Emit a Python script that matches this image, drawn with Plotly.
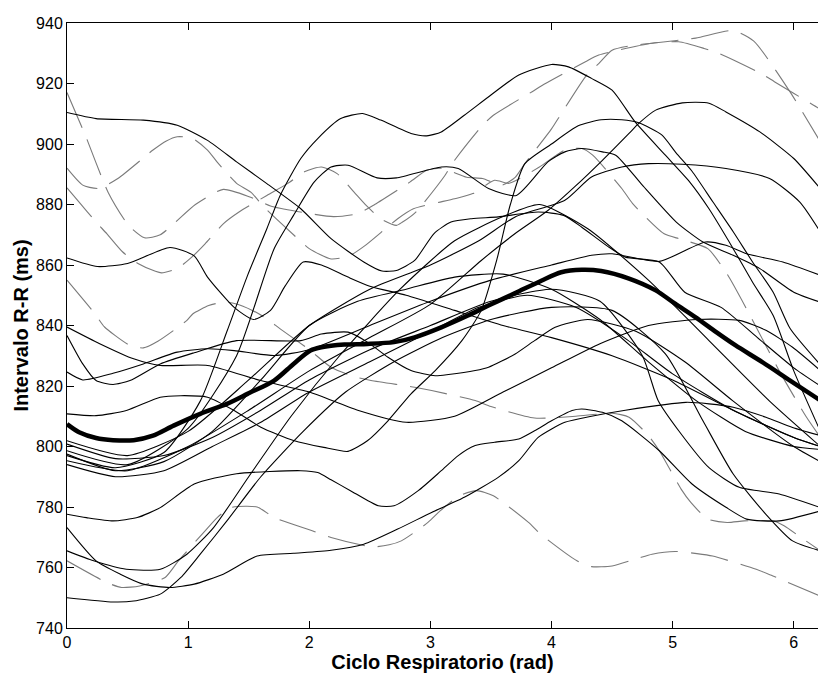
import plotly.graph_objects as go

# ---------------- data ----------------
mean_x = [0,0.1,0.24,0.38,0.55,0.71,0.88,1.1,1.32,1.49,1.71,1.87,2.01,2.1,2.29,2.48,2.70,2.87,3.09,3.31,3.48,3.70,3.92,4.08,4.25,4.41,4.64,4.86,5.02,5.19,5.36,5.52,5.74,5.97,6.22]
mean_y = [807.4,804.7,802.8,802.1,802.1,803.6,806.9,810.8,814.1,817.4,821.8,827.3,831.7,832.8,833.7,833.9,834.5,836.1,839.4,843.3,846.6,850.7,854.9,857.6,858.4,858,855.5,851.6,847.2,842.7,837.8,833.4,827.9,821.8,815.2]

# solid individual curves (x, y)
a_x = [0,0.24,0.63,0.91,1.16,1.40,1.65,1.93,2.18,2.45,2.6,2.72,2.87,3.03,3.17,3.34,3.56,3.89,4.1,4.25,4.47,4.61,4.89,5.1,5.4,5.7,6.0,6.22]
a_y = [910.4,908.4,907.9,906.2,901.2,894.1,886.9,878.6,868.7,861,858,858.2,861.5,870.4,874.2,875.3,875.9,877.5,876.4,872.5,866,862.6,861,851,846,836,826,820]
b_x = [0,0.4,0.8,1.1,1.32,1.49,1.65,1.76,1.93,2.07,2.26,2.44,2.59,2.84,2.97,3.09,3.28,3.5,3.73,4.0,4.14,4.33,4.5,4.69,4.94,5.14,5.3,5.5,5.66,5.83,6.0,6.22]
b_y = [797,793,798,815,838,856.5,872,883,895.2,901.8,908.4,910.1,907.9,903.5,902.7,904,909.5,916.2,922.8,926.3,925.5,921.7,917.8,907.3,896.3,887.5,878.6,865.4,854.3,843.3,825,805]
c_x = [0,0.5,1.0,1.4,1.71,1.87,2.04,2.18,2.32,2.56,2.72,3.09,3.23,3.48,3.71,3.97,4.11,4.25,4.42,4.53,4.75,5.03,5.25,5.5,5.72,6.0,6.22]
c_y = [798.6,794,806,830,865.4,876.4,887.4,892.4,893,888.8,888.8,892.4,891.9,885.3,883,894.1,897.4,898.5,897.4,896.3,886.4,874.2,867.6,863.2,858.8,851,847.7]
s4_x = [0,0.24,0.49,0.77,0.94,1.16,1.38,1.6,1.87,2.12,2.32,2.48,2.65,2.84,3.04,3.26,3.42,3.55,3.66,3.78,4.0,4.22,4.41,4.58,4.72,4.91,5.03,5.16,5.33,5.5,5.66,5.83,5.97,6.22]
s4_y = [810.8,810.2,811.9,816.3,816.8,816.3,811.9,806.4,802,799.7,798.4,801.9,808.5,817.4,825.1,835,845,862,880,893.5,900,906,908,908,907,903,897,891,881,871,861,851,839,827]
d_x = [0,0.5,1.0,1.5,2.0,2.5,3.0,3.42,3.7,3.97,4.19,4.42,4.64,4.72,4.86,5.08,5.3,5.44,5.72,6.0,6.22]
d_y = [795.3,792,800,812,825,836,847,861.5,870.4,878,885.8,894.6,903.5,906.8,911.2,913.6,913.5,910.6,904,895.2,885.2]
s6_x = [0,0.5,1.0,1.5,2.0,2.5,3.0,3.4,3.7,4.11,4.33,4.58,4.8,5.08,5.44,5.8,6.05,6.22]
s6_y = [801.9,797,805,822,840,852,860,868,875.9,881.4,889.1,892.4,893.5,893.3,891.9,888.6,880.8,870.9]
l825_x = [0,0.13,0.38,0.63,0.91,1.16,1.38,1.71,2.0,2.5,3.0,3.5,4.0,4.33,4.5,4.89,5.27,5.44,5.61,5.91,6.22]
l825_y = [824.6,822,824.2,827.3,831.2,832.3,831.7,830.1,832,840,848,855,860,863.2,863.7,861.2,867.6,866.5,863.7,861,856.6]
s2_x = [0,0.25,0.5,0.85,1.05,1.16,1.38,1.54,1.68,1.8,1.95,2.1,2.32,2.5,2.8,3.2,3.6,4.0,4.5,5.0,5.5,6.0,6.22]
s2_y = [862.3,859.5,860.5,865.8,863,856,846,842,845,853,861,860,856,853,850,845,840,836,830,822,812,803,800]
l840_x = [0,0.27,0.55,0.77,1.16,1.6,2.0,2.4,2.8,3.2,3.6,4.0,4.4,4.8,5.2,5.55,5.77,5.99,6.22]
l840_y = [839.5,834,829,826.8,826.8,821.8,818,812,808,810,818,826,834,840,842,841.7,838.4,832.8,825.1]
l837_x = [0,0.13,0.24,0.38,0.52,0.77,1.05,1.4,1.93,2.1,2.32,2.48,2.65,2.84,3.04,3.15,3.37,3.48,3.7,3.86,4.03,4.3,4.7,5.1,5.5,6.0,6.22]
l837_y = [836.7,827.3,821.8,820.5,821.8,827.3,831,835,835,837.2,837.8,834.5,829.5,825.1,823.4,823.8,825.1,826.2,830.6,835,839.4,842,838,828,815,800,795]
s9_x = [0,0.16,0.38,0.58,0.77,1.05,1.4,1.93,2.07,2.18,2.34,2.57,2.7,2.9,3.09,3.23,3.37,3.53,3.73,3.86,4.0,4.17,4.25,4.42,4.58,4.89,5.16,5.44,5.61,5.88,6.22]
s9_y = [777.6,776.5,775.4,776.5,779.8,787.6,791,792,791.4,789,785.4,780.4,780.4,785.4,792,797,800.3,801.4,802.5,805.2,808.5,811.9,812.4,811.3,808.5,798.6,787.6,779.9,776,775.4,778.7]
s10_x = [0,0.24,0.44,0.63,0.85,1.05,1.29,1.57,1.87,2.18,2.45,2.73,3.01,3.28,3.56,3.73,3.89,4.11,4.33,4.61,5.11,5.3,5.5,5.77,5.99,6.22]
s10_y = [773.2,762.2,757.8,754.5,753.4,754.5,757.8,763.8,764.7,765.7,767.7,772.7,778.2,783.2,789.8,795.3,803,808,810,812,814.6,814.1,813,809.7,806.3,803.6]
l1_x = [0,0.38,0.55,0.77,0.94,1.1,1.32,1.6,1.95,2.3,2.7,3.1,3.5,4.0,4.5,4.94,5.25,5.5,5.77,5.99,6.22]
l1_y = [750,748.6,748.9,751.2,756.7,764.4,775.4,790,805,818,828,836,842,846,845,830.6,808.5,790.9,777.6,768.8,765.5]
l765_x = [0,0.22,0.49,0.77,0.99,1.21,1.5,1.85,2.25,2.75,3.2,3.6,3.9,4.3,4.8,5.3,5.8,6.22]
l765_y = [765.5,762.2,759.4,759.4,764.4,773.2,790,810,830,852,868,876,880,872,855,835,815,800]
l801_x = [0,0.4,0.8,1.2,1.6,2.0,2.5,3.0,3.5,4.0,4.4,4.75,4.88,5.05,5.3,5.55,5.88,6.22]
l801_y = [800.8,796,797,803,812,822,832,840,848,852,848,830,815.2,805.2,793,786.5,784.3,779.8]
l797_x = [0,0.4,0.8,1.2,1.6,2.0,2.4,2.8,3.2,3.6,4.0,4.4,4.8,5.2,5.6,6.0,6.22]
l797_y = [797.5,792,795,805,822,840,848,852,856,857,852,842,828,815,805,800,799]
l794_x = [0,0.4,0.8,1.2,1.6,2.0,2.5,3.0,3.4,3.8,4.2,4.6,5.0,5.5,6.0,6.22]
l794_y = [794,790,792,800,808,818,828,838,846,850,846,836,824,812,803,800]

# dashed grey curves
da_x = [0,0.15,0.34,0.51,0.64,0.77,1.06,1.29,1.51,1.68,1.9,2.2,2.4,2.54,2.83,2.97,3.09,3.3,3.43,3.59,3.7,3.78,4.0,4.08,4.29,4.39,4.5,4.69,4.83,5.19,5.5,5.67,5.96,6.22]
da_y = [917,903,884,873,869,870,880,885,882.5,879.5,877.7,876,877,880,887.4,891.3,892,889,888.6,886.4,889,893.5,905,910,922.8,926.6,931,932.7,933.3,935,937.5,934,917.8,900.7]
db_x = [0,0.13,0.26,0.42,0.71,0.82,0.91,1.03,1.16,1.24,1.4,1.52,1.63,1.87,2.0,2.18,2.33,2.46,2.73,2.86,3.2,3.35,3.53,3.65,3.9,4.11,4.25,4.34,4.58,4.67,4.93,5.07,5.29,5.45,5.63,5.88,6.1,6.22]
db_y = [892,886.4,885.3,888.6,898,901,902.4,902,898,894,887,884,879,870,865.4,862,863,866.4,875.3,878.6,881.9,883.6,888,887,892.4,898,898.5,896.3,885.3,880.3,870.3,868.5,865.4,857,844,825,810,803]
dc_x = [0,0.1,0.24,0.33,0.46,0.59,0.73,0.78,0.91,1.03,1.14,1.29,1.42,1.65,1.82,1.97,2.1,2.23,2.37,2.47,2.59,2.72,2.77,2.88,3.12,3.19,3.42,3.52,3.84,3.95,4.28,4.39,4.83,5.05,5.26,5.38,5.73,5.84,6.16,6.22]
dc_y = [885.5,880.8,874.2,870.3,864.3,860.4,857.9,857.4,858.8,862.6,867,873.6,877.5,883,886.9,891,892.4,890.2,884.1,879.7,875.3,873.1,874.2,877.5,889.6,894.1,905.7,909.5,917.3,920,927.2,929.4,933.3,933.8,931.6,930,923.3,920.6,912.9,911.5]
dd_x = [0,0.23,0.31,0.52,0.63,0.75,0.99,1.04,1.17,1.29,1.39,1.53,1.65,1.76,2.0,2.18,2.37,2.51,2.87,3.01,3.37,3.5,3.86,4.2,4.5,4.64,4.8,4.89,5.07,5.15,5.29,5.45,5.59,5.83,5.92,6.06,6.22]
dd_y = [855,843.9,839.5,833.4,832.6,834.8,841.7,843.9,846.6,847.7,847.2,845,842.2,838.9,832,826.2,823.1,821.8,819.6,818.5,815.2,813.2,809.4,810,811,809.7,803.6,798.6,785.9,781.5,776,774.9,775.4,775.4,773.8,769.9,765.5]
de_x = [0,0.33,0.45,0.6,0.81,0.92,1.14,1.24,1.35,1.57,1.71,2.03,2.18,2.52,2.66,2.76,2.98,3.08,3.24,3.38,3.52,3.81,3.91,4.21,4.33,4.5,4.71,4.83,5.02,5.2,5.33,5.69,5.81,6.22]
de_y = [762.2,755,753.4,753.9,756.7,762.2,772.1,776.5,779.8,780,776.5,772.1,769.9,766.8,767.5,768.8,774.9,778.7,783.7,785.4,783.7,774.9,771,762.2,760.3,760.5,763,764.4,765.3,764.6,763.8,759.4,757.5,750.5]

x_ticks = [0, 1, 2, 3, 4, 5, 6]
y_ticks = [740, 760, 780, 800, 820, 840, 860, 880, 900, 920, 940]

solid_curves = [(a_x, a_y), (b_x, b_y), (c_x, c_y), (s4_x, s4_y), (d_x, d_y), (s6_x, s6_y),
                (l825_x, l825_y), (s2_x, s2_y), (l840_x, l840_y), (l837_x, l837_y), (s9_x, s9_y),
                (s10_x, s10_y), (l1_x, l1_y), (l765_x, l765_y), (l801_x, l801_y), (l797_x, l797_y),
                (l794_x, l794_y)]
dashed_curves = [(da_x, da_y), (db_x, db_y), (dc_x, dc_y), (dd_x, dd_y), (de_x, de_y)]

# ---------------- figure ----------------
fig = go.Figure()
for xs, ys in dashed_curves:
    fig.add_trace(go.Scatter(x=xs, y=ys, mode="lines",
                             line=dict(color="#7a7a7a", width=1.1, dash="38px,13px", shape="spline", smoothing=0.6),
                             hoverinfo="skip", showlegend=False))
for xs, ys in solid_curves:
    fig.add_trace(go.Scatter(x=xs, y=ys, mode="lines",
                             line=dict(color="black", width=1.1, shape="spline", smoothing=0.6),
                             hoverinfo="skip", showlegend=False))
fig.add_trace(go.Scatter(x=mean_x, y=mean_y, mode="lines",
                         line=dict(color="black", width=4.5, shape="spline", smoothing=0.8),
                         hoverinfo="skip", showlegend=False))

fnt = "Arial, 'Liberation Sans', Helvetica, sans-serif"
fig.update_layout(
    width=818, height=675,
    margin=dict(l=67, r=0, t=23, b=47),
    paper_bgcolor="white", plot_bgcolor="white",
    font=dict(family=fnt, size=16, color="black"),
    showlegend=False,
    xaxis=dict(range=[0, 6.2], tickvals=x_ticks, ticks="inside", ticklen=7, tickcolor="black",
               showline=True, linecolor="black", linewidth=1, mirror="ticks", showgrid=False,
               zeroline=False, tickfont=dict(size=16),
               title=dict(text="<b>Ciclo Respiratorio (rad)</b>", font=dict(size=20), standoff=2)),
    yaxis=dict(range=[740, 940], tickvals=y_ticks, ticks="inside", ticklen=7, tickcolor="black",
               showline=True, linecolor="black", linewidth=1, mirror=False, showgrid=False,
               zeroline=False, tickfont=dict(size=16),
               title=dict(text="<b>Intervalo R-R (ms)</b>", font=dict(size=20), standoff=2)),
)
fig.write_html("out.html")
